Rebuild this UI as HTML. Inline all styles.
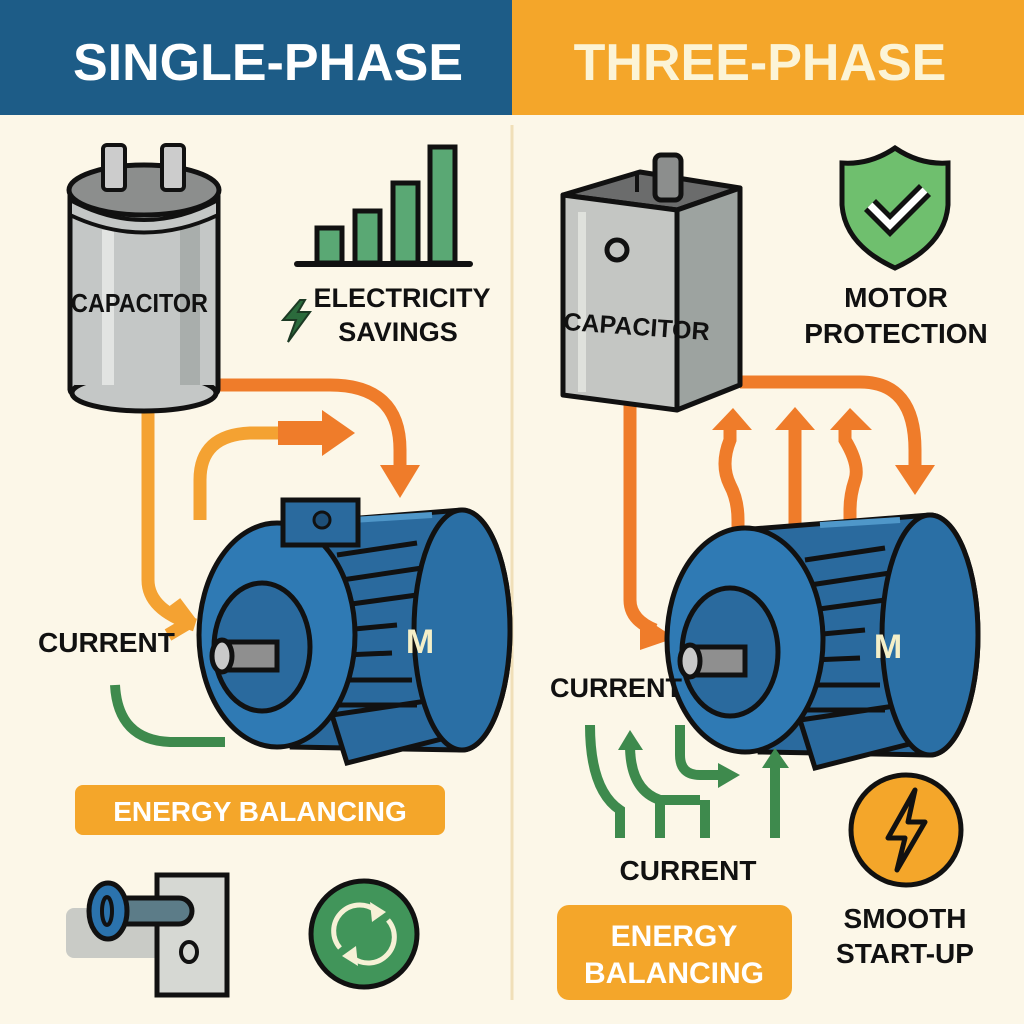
<!DOCTYPE html>
<html><head><meta charset="utf-8"><style>
html,body{margin:0;padding:0;background:#fcf7e8;}
svg{display:block;}
text{font-family:"Liberation Sans",sans-serif;font-weight:bold;}
</style></head><body>
<svg width="1024" height="1024" viewBox="0 0 1024 1024" xmlns="http://www.w3.org/2000/svg">
<defs>
<g id="motor">
  <path d="M740,530 L930,515 A48,120 0 0 1 930,755 L760,752 Z" fill="#2a6a9e" stroke="#111" stroke-width="5"/>
  <path d="M800,720 L935,700 L945,735 L815,768 Z" fill="#2a6a9e" stroke="#111" stroke-width="5"/>
  <ellipse cx="930" cy="635" rx="48" ry="120" fill="#2a6fa5" stroke="#111" stroke-width="5"/>
  <path d="M820,525 L900,520" stroke="#4f97c9" stroke-width="6"/>
  <g stroke="#111" stroke-width="5">
   <line x1="805" y1="560" x2="885" y2="548"/><line x1="810" y1="585" x2="890" y2="573"/>
   <line x1="812" y1="610" x2="885" y2="600"/><line x1="812" y1="635" x2="865" y2="630"/>
   <line x1="812" y1="660" x2="860" y2="658"/><line x1="810" y1="685" x2="880" y2="685"/>
   <line x1="805" y1="710" x2="885" y2="710"/>
  </g>
  <ellipse cx="745" cy="640" rx="78" ry="112" fill="#2f7ab4" stroke="#111" stroke-width="5"/>
  <ellipse cx="730" cy="652" rx="48" ry="64" fill="#2a6a9e" stroke="#111" stroke-width="5"/>
  <rect x="690" y="647" width="55" height="28" fill="#8f8f8f" stroke="#111" stroke-width="5"/>
  <ellipse cx="690" cy="661" rx="10" ry="16" fill="#c9c9c9" stroke="#111" stroke-width="5"/>
  <text x="888" y="658" font-size="34" fill="#f4efc8" text-anchor="middle">M</text>
</g>
</defs>
<rect width="1024" height="1024" fill="#fcf7e8"/>
<rect x="0" y="0" width="512" height="115" fill="#1d5c87"/>
<rect x="512" y="0" width="512" height="115" fill="#f4a62a"/>
<text x="268" y="80" font-size="52" fill="#fff" text-anchor="middle">SINGLE-PHASE</text>
<text x="760" y="80" font-size="52" fill="#fcf4d6" text-anchor="middle">THREE-PHASE</text>
<line x1="512" y1="125" x2="512" y2="1000" stroke="#f0dfb8" stroke-width="3"/>

<!-- LEFT -->
<!-- arrows behind -->
<path d="M148,400 L148,580 Q148,610 195,625" fill="none" stroke="#f4a232" stroke-width="13"/>
<path d="M190,622 L175,602 M190,622 L168,635" stroke="#f4a232" stroke-width="13"/>
<path d="M200,520 L200,480 Q200,435 250,433 L320,433" fill="none" stroke="#f4a232" stroke-width="13"/>
<rect x="278" y="421" width="45" height="24" fill="#ef7c2a"/>
<polygon points="322,410 355,433 322,456" fill="#ef7c2a"/>
<path d="M216,385 L330,385 Q400,385 400,450 L400,470" fill="none" stroke="#ef7c2a" stroke-width="13"/>
<polygon points="380,465 420,465 400,498" fill="#ef7c2a"/>

<!-- capacitor -->
<rect x="70" y="190" width="148" height="205" rx="6" fill="#c4c7c6" stroke="#111" stroke-width="5"/>
<path d="M72,365 L72,392 A72,20 0 0 0 216,392 L216,365" fill="#c4c7c6"/>
<ellipse cx="144" cy="393" rx="72" ry="18" fill="#c4c7c6" stroke="#111" stroke-width="5"/>
<rect x="75" y="230" width="140" height="155" fill="#c4c7c6"/>
<rect x="102" y="230" width="12" height="155" fill="#e2e4e2"/>
<rect x="180" y="225" width="20" height="160" fill="#a9aeac"/>
<line x1="70" y1="230" x2="70" y2="390" stroke="#111" stroke-width="5"/>
<line x1="218" y1="230" x2="218" y2="390" stroke="#111" stroke-width="5"/>
<ellipse cx="144" cy="190" rx="75" ry="25" fill="#8c8e8d" stroke="#111" stroke-width="5"/>
<path d="M70,200 Q144,240 218,200 L218,215 Q144,250 70,215 Z" fill="#c4c7c6" stroke="#111" stroke-width="4"/>
<rect x="103" y="145" width="22" height="45" rx="4" fill="#ccc" stroke="#111" stroke-width="4"/>
<rect x="162" y="145" width="22" height="45" rx="4" fill="#ccc" stroke="#111" stroke-width="4"/>
<text x="140" y="312" font-size="26" fill="#111" text-anchor="middle" transform="scale(0.9,1) translate(15,0)">CAPACITOR</text>

<!-- bar chart -->
<g fill="#5aa874" stroke="#111" stroke-width="5">
<rect x="317" y="228" width="25" height="35"/><rect x="355" y="211" width="25" height="52"/>
<rect x="393" y="183" width="25" height="80"/><rect x="430" y="147" width="25" height="116"/>
</g>
<line x1="297" y1="264" x2="470" y2="264" stroke="#111" stroke-width="6" stroke-linecap="round"/>
<polygon points="300,300 283,320 296,320 288,342 310,312 298,312 305,300" fill="#2b6b3c" stroke="#1c3a24" stroke-width="2"/>
<text x="402" y="307" font-size="27" fill="#111" text-anchor="middle">ELECTRICITY</text>
<text x="398" y="341" font-size="27" fill="#111" text-anchor="middle">SAVINGS</text>

<use href="#motor" transform="translate(-468,-5)"/>
<rect x="283" y="500" width="75" height="45" fill="#2a6a9e" stroke="#111" stroke-width="5"/>
<ellipse cx="322" cy="520" rx="8" ry="8" fill="#1e4f78" stroke="#111" stroke-width="3"/>

<text x="38" y="652" font-size="28" fill="#111">CURRENT</text>
<path d="M115,685 Q118,740 170,742 L225,742" fill="none" stroke="#3e8a4d" stroke-width="10"/>

<rect x="75" y="785" width="370" height="50" rx="8" fill="#f4a62a"/>
<text x="260" y="821" font-size="28" fill="#fff" text-anchor="middle">ENERGY BALANCING</text>

<!-- switch -->
<rect x="66" y="908" width="112" height="50" rx="8" fill="#c9cbc6"/>
<rect x="156" y="947" width="14" height="16" fill="#c9cbc6"/>
<rect x="157" y="875" width="70" height="120" fill="#d6d8d3" stroke="#111" stroke-width="5"/>
<rect x="100" y="898" width="92" height="26" rx="13" fill="#5c7c88" stroke="#111" stroke-width="5"/>
<ellipse cx="108" cy="911" rx="19" ry="28" fill="#2b73ad" stroke="#111" stroke-width="5"/>
<ellipse cx="107" cy="911" rx="5" ry="14" fill="none" stroke="#111" stroke-width="4"/>
<ellipse cx="189" cy="952" rx="8" ry="10" fill="none" stroke="#111" stroke-width="4"/>
<circle cx="364" cy="934" r="53" fill="#41955a" stroke="#111" stroke-width="5"/>
<path d="M340,948 A26,26 0 0 1 375,910" fill="none" stroke="#f6f1d6" stroke-width="5"/>
<polygon points="370,902 386,912 372,922" fill="#f6f1d6"/>
<path d="M388,920 A26,26 0 0 1 353,958" fill="none" stroke="#f6f1d6" stroke-width="5"/>
<polygon points="358,966 342,956 356,946" fill="#f6f1d6"/>

<!-- RIGHT -->
<path d="M630,400 L630,600 Q630,620 655,630" fill="none" stroke="#ef7c2a" stroke-width="13"/>
<polygon points="640,615 675,638 640,650" fill="#ef7c2a"/>
<path d="M740,382 L860,382 Q915,382 915,450 L915,470" fill="none" stroke="#ef7c2a" stroke-width="13"/>
<polygon points="895,465 935,465 915,495" fill="#ef7c2a"/>
<g fill="none" stroke="#ef7c2a" stroke-width="13">
<path d="M738,555 L738,520 Q738,500 730,485 Q720,465 730,440 L730,425"/>
<path d="M795,555 L795,425"/>
<path d="M850,545 L850,510 Q850,495 855,480 Q860,465 845,440 L845,425"/>
</g>
<g fill="#ef7c2a">
<polygon points="712,430 733,408 752,430"/><polygon points="775,430 795,407 815,430"/>
<polygon points="830,430 850,408 872,430"/>
</g>

<!-- box capacitor -->
<polygon points="563,195 640,172 740,188 677,210" fill="#6b6c6c" stroke="#111" stroke-width="5" stroke-linejoin="round"/>
<polygon points="677,210 740,188 740,385 677,410" fill="#9da3a0" stroke="#111" stroke-width="5" stroke-linejoin="round"/>
<polygon points="563,195 677,210 677,410 563,395" fill="#c4c6c3" stroke="#111" stroke-width="5" stroke-linejoin="round"/>
<rect x="578" y="212" width="8" height="180" fill="#dfe1dc"/>
<rect x="655" y="155" width="26" height="45" rx="6" fill="#8c8e8d" stroke="#111" stroke-width="5"/>
<line x1="637" y1="172" x2="637" y2="192" stroke="#111" stroke-width="4"/>
<circle cx="617" cy="250" r="10" fill="none" stroke="#111" stroke-width="5"/>
<text x="636" y="335" font-size="25" fill="#111" text-anchor="middle" transform="rotate(4,636,335)">CAPACITOR</text>

<path d="M895,148 Q870,165 842,163 L842,205 Q845,245 895,268 Q945,245 948,205 L948,163 Q920,165 895,148 Z" fill="#6fbf6e" stroke="#111" stroke-width="5"/>
<path d="M870,205 L890,225 L925,190" fill="none" stroke="#111" stroke-width="17" stroke-linejoin="miter"/>
<path d="M870,205 L890,225 L925,190" fill="none" stroke="#fff" stroke-width="7"/>
<text x="896" y="307" font-size="28" fill="#111" text-anchor="middle">MOTOR</text>
<text x="896" y="343" font-size="28" fill="#111" text-anchor="middle">PROTECTION</text>

<use href="#motor"/>
<text x="550" y="697" font-size="27" fill="#111">CURRENT</text>

<g fill="none" stroke="#3e8a4d" stroke-width="10">
<path d="M590,725 Q590,790 620,810 L620,838"/>
<path d="M630,745 Q630,790 660,800 L700,800"/>
<path d="M680,725 L680,755 Q680,775 700,775 L720,775"/>
<path d="M775,760 L775,838"/>
<path d="M660,800 L660,838"/><path d="M705,800 L705,838"/>
<path d="M630,745 L630,740"/>
</g>
<g fill="#3e8a4d">
<polygon points="618,750 630,730 643,750"/>
<polygon points="718,763 740,775 718,788"/>
<polygon points="762,768 775,748 789,768"/>
</g>
<text x="688" y="880" font-size="28" fill="#111" text-anchor="middle">CURRENT</text>

<rect x="557" y="905" width="235" height="95" rx="12" fill="#f4a62a"/>
<text x="674" y="946" font-size="30" fill="#fff" text-anchor="middle">ENERGY</text>
<text x="674" y="983" font-size="30" fill="#fff" text-anchor="middle">BALANCING</text>

<circle cx="906" cy="830" r="55" fill="#f4a62a" stroke="#111" stroke-width="5"/>
<polygon points="915,790 888,838 905,838 897,870 925,822 908,822" fill="none" stroke="#111" stroke-width="5" stroke-linejoin="round"/>
<text x="905" y="928" font-size="28" fill="#111" text-anchor="middle">SMOOTH</text>
<text x="905" y="963" font-size="28" fill="#111" text-anchor="middle">START-UP</text>
</svg>
</body></html>
